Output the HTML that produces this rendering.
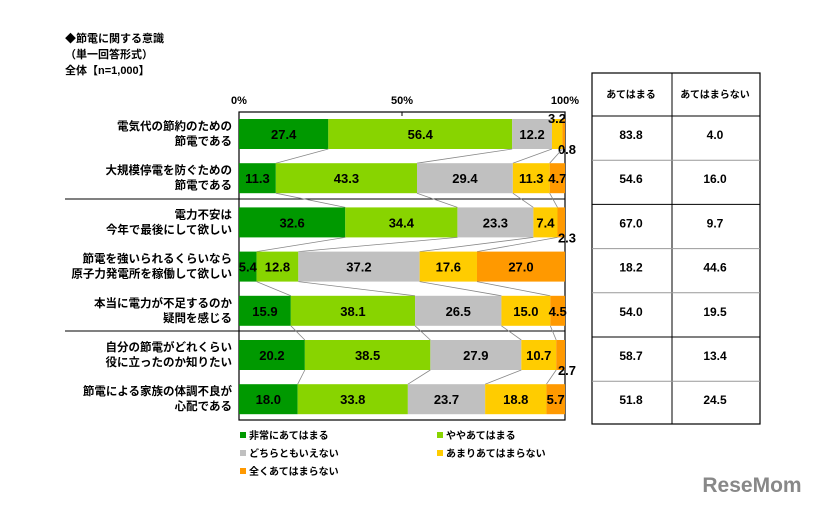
<!DOCTYPE html><html><head><meta charset="utf-8"><style>body{margin:0;background:#fff}svg{display:block}text{font-family:"Liberation Sans","Noto Sans CJK JP",sans-serif;font-weight:bold}</style></head><body>
<svg id="s" width="814" height="508" xmlns="http://www.w3.org/2000/svg"></svg>
<script>
const d=[[27.4,56.4,12.2,3.2,0.8],[11.3,43.3,29.4,11.3,4.7],[32.6,34.4,23.3,7.4,2.3],[5.4,12.8,37.2,17.6,27.0],[15.9,38.1,26.5,15.0,4.5],[20.2,38.5,27.9,10.7,2.7],[18.0,33.8,23.7,18.8,5.7]];
const lab=[["電気代の節約のための","節電である"],["大規模停電を防ぐための","節電である"],["電力不安は","今年で最後にして欲しい"],["節電を強いられるくらいなら","原子力発電所を稼働して欲しい"],["本当に電力が不足するのか","疑問を感じる"],["自分の節電がどれくらい","役に立ったのか知りたい"],["節電による家族の体調不良が","心配である"]];
const tb=[["83.8","4.0"],["54.6","16.0"],["67.0","9.7"],["18.2","44.6"],["54.0","19.5"],["58.7","13.4"],["51.8","24.5"]];
const col=["#009900","#88d400","#c0c0c0","#ffcc00","#ff9900"];
const X0=239,W=326,H=44.2,T=119,BH=30;
let s='';
const t=(x,y,str,sz,a)=>s+=`<text x="${x}" y="${y}" font-size="${sz}" text-anchor="${a||'start'}">${str}</text>`;
t(65,42,'◆節電に関する意識',11);t(65,58,'（単一回答形式）',11);t(65,74,'全体【n=1,000】',11);
t(239,104,'0%',11,'middle');t(402,104,'50%',11,'middle');t(565,104,'100%',11,'middle');
s+=`<rect x="${X0}" y="112" width="${W}" height="308" fill="none" stroke="#000" stroke-width="1.2"/>`;
s+=`<line x1="402" y1="112" x2="402" y2="116" stroke="#000"/>`;
s+=`<line x1="65" y1="199" x2="565" y2="199" stroke="#000"/><line x1="65" y1="331" x2="565" y2="331" stroke="#000"/>`;
d.forEach((r,i)=>{let y=T+i*H,c=0;
 r.forEach((v,j)=>{let x=X0+c*W/100,w=v*W/100;s+=`<rect x="${x}" y="${y}" width="${w}" height="${BH}" fill="${col[j]}"/>`;c+=v;});
 c=0;r.forEach((v,j)=>{let x=X0+c*W/100,w=v*W/100;let cx=x+w/2,cy=y+BH/2+5;
  if(j==4&&v<4){t(X0+W+2,y+BH+5,v.toFixed(1),13,'middle');}
  else if(j==3&&v<4){t(X0+W-8,y+4,v.toFixed(1),13,'middle');}
  else t(cx,cy,v.toFixed(1),13,'middle');c+=v;});
 if(i<6){let c1=0,c2=0;for(let j=0;j<4;j++){c1+=r[j];c2+=d[i+1][j];s+=`<line x1="${X0+c1*W/100}" y1="${y+BH}" x2="${X0+c2*W/100}" y2="${y+H}" stroke="#888" stroke-width="0.8"/>`;}}
 t(232,y+11,lab[i][0],11.5,'end');t(232,y+26,lab[i][1],11.5,'end');
 t(631,y+BH/2+5,tb[i][0],12,'middle');t(715,y+BH/2+5,tb[i][1],12,'middle');
});
s+=`<rect x="592" y="73" width="168" height="351" fill="none" stroke="#000" stroke-width="1.2"/><line x1="672" y1="73" x2="672" y2="424" stroke="#000"/><line x1="592" y1="116" x2="760" y2="116" stroke="#000"/>`;
for(let i=1;i<7;i++){let y=T-3+i*H;s+=`<line x1="592" y1="${y}" x2="760" y2="${y}" stroke="${(i==2||i==5)?'#000':'#999'}"/>`;}
t(631,98,'あてはまる',10,'middle');t(715,98,'あてはまらない',10,'middle');
const lg=[[240,437,'非常にあてはまる',0],[437,437,'ややあてはまる',1],[240,455,'どちらともいえない',2],[437,455,'あまりあてはまらない',3],[240,473,'全くあてはまらない',4]];
lg.forEach(l=>{s+=`<rect x="${l[0]}" y="${l[1]-5}" width="6" height="6" fill="${col[l[3]]}"/>`;t(l[0]+9,l[1]+2,l[2],10);});
s+=`<text x="752" y="492" font-size="21" text-anchor="middle" fill="#888">ReseMom</text>`;
document.getElementById('s').innerHTML=s;
</script></body></html>
